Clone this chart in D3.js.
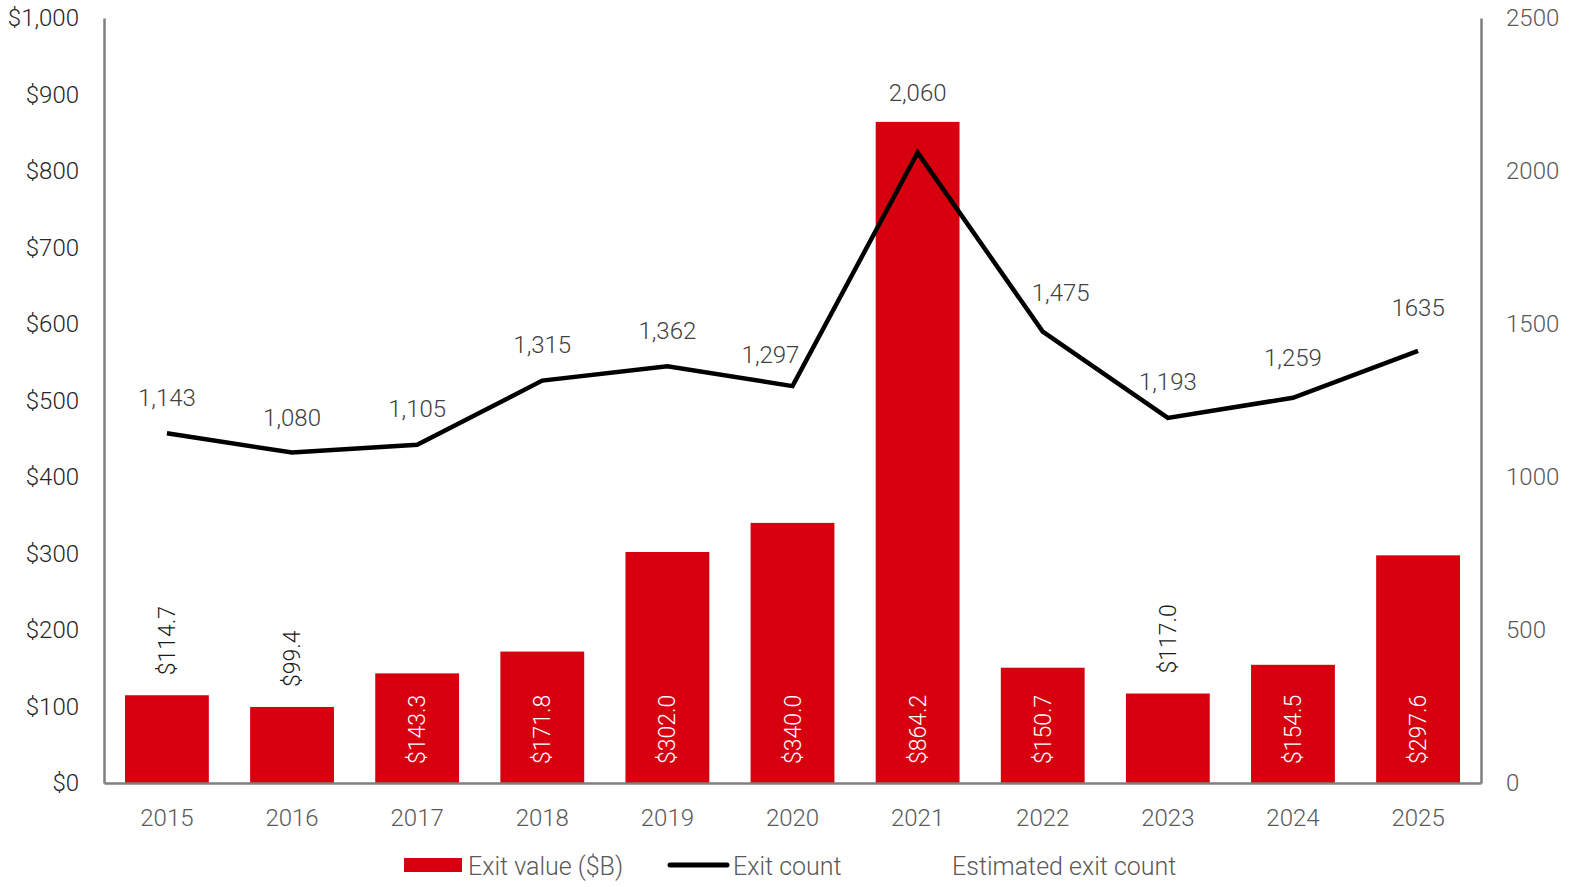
<!DOCTYPE html>
<html><head><meta charset="utf-8">
<script src="https://cdn.jsdelivr.net/npm/d3@7"></script>
<style>
html,body{margin:0;padding:0;background:#fff;overflow:hidden;}
svg{display:block;}
text{font-family:Roboto,"Liberation Sans",Arial,sans-serif;font-weight:300;}
</style></head>
<body><svg id="c" width="1574" height="887"></svg>
<script>
const years = ["2015","2016","2017","2018","2019","2020","2021","2022","2023","2024","2025"];
const exitValue = [114.7, 99.4, 143.3, 171.8, 302.0, 340.0, 864.2, 150.7, 117.0, 154.5, 297.6];
const exitCount = [1143, 1080, 1105, 1315, 1362, 1297, 2060, 1475, 1193, 1259, 1412];
const countLabels = ["1,143","1,080","1,105","1,315","1,362","1,297","2,060","1,475","1,193","1,259","1635"];
const leftTicks = [0,100,200,300,400,500,600,700,800,900,1000];
const rightTicks = [0,500,1000,1500,2000,2500];
const legendItems = ["Exit value ($B)","Exit count","Estimated exit count"];

// layout (styling only)
const labelNudge = [[0,-36],[0,-35],[0,-36],[0,-36],[0,-36],[-22,-32],[0,-60],[18,-39],[0,-36],[0,-40],[0,-43]];

const svg = d3.select("#c");
const L = 104, R = 1481, T = 18, B = 783;
const red = "#d7000f", axisC = "#7f7f7f", tickC = "#595959";

const x = d3.scaleBand().domain(years).range([L, R]).paddingInner(0.33).paddingOuter(0.168);
const yL = d3.scaleLinear().domain([0,1000]).range([B, T]);
const yR = d3.scaleLinear().domain([0,2500]).range([B, T]);

// bars
svg.append("g").selectAll("rect").data(years).join("rect")
  .attr("x", d => x(d)).attr("width", x.bandwidth())
  .attr("y", (d,i) => yL(exitValue[i])).attr("height", (d,i) => B - yL(exitValue[i]))
  .attr("fill", red);

// axes
const axL = svg.append("g").attr("transform", `translate(${L},0)`)
  .call(d3.axisLeft(yL).tickValues(leftTicks).tickSize(0).tickPadding(25).tickFormat(d => "$" + d3.format(",")(d)));
const axR = svg.append("g").attr("transform", `translate(${R},0)`)
  .call(d3.axisRight(yR).tickValues(rightTicks).tickSize(0).tickPadding(25).tickFormat(d3.format("d")));
const axB = svg.append("g").attr("transform", `translate(0,${B})`)
  .call(d3.axisBottom(x).tickSize(0).tickPadding(26));
[axL, axR, axB].forEach(a => {
  a.select(".domain").attr("stroke", axisC).attr("stroke-width", 2.5);
  a.selectAll("text").attr("font-size", 24).attr("fill", tickC).attr("font-family", "Roboto, Arial, sans-serif").attr("font-weight", 300);
});
axL.selectAll("text").attr("fill", "#262626");
axB.selectAll("text").attr("dy", "0.71em");

// bar labels
const inside = d => exitValue[years.indexOf(d)] >= 130;
svg.append("g").selectAll("text").data(years).join("text")
  .attr("transform", (d,i) => {
    const cx = x(d) + x.bandwidth()/2;
    const yy = inside(d) ? B - 19 : yL(exitValue[i]) - 20;
    return `translate(${cx},${yy}) rotate(-90)`;
  })
  .attr("dy", "0.35em")
  .attr("font-size", 23)
  .attr("fill", d => inside(d) ? "#fff" : "#1a1a1a")
  .text((d,i) => "$" + exitValue[i].toFixed(1));

// line
const line = d3.line().x((d,i) => x(years[i]) + x.bandwidth()/2).y(d => yR(d));
svg.append("path").datum(exitCount).attr("d", line)
  .attr("fill", "none").attr("stroke", "#000").attr("stroke-width", 4.5).attr("stroke-linejoin", "miter");

// line labels
svg.append("g").selectAll("text").data(exitCount).join("text")
  .attr("x", (d,i) => x(years[i]) + x.bandwidth()/2 + labelNudge[i][0])
  .attr("y", (d,i) => yR(d) + labelNudge[i][1])
  .attr("dy", "0.35em").attr("text-anchor", "middle")
  .attr("font-size", 24).attr("fill", "#404040")
  .text((d,i) => countLabels[i]);

// legend
const lg = svg.append("g");
lg.append("rect").attr("x", 404).attr("y", 858).attr("width", 58).attr("height", 14).attr("fill", red);
lg.append("line").attr("x1", 670).attr("x2", 727).attr("y1", 865).attr("y2", 865).attr("stroke", "#000").attr("stroke-width", 5).attr("stroke-linecap", "round");
const lx = [468, 733, 952];
lg.selectAll("text").data(legendItems).join("text")
  .attr("x", (d,i) => lx[i]).attr("y", 866).attr("dy", "0.35em")
  .attr("font-size", 25).attr("fill", tickC).text(d => d);
</script></body></html>
